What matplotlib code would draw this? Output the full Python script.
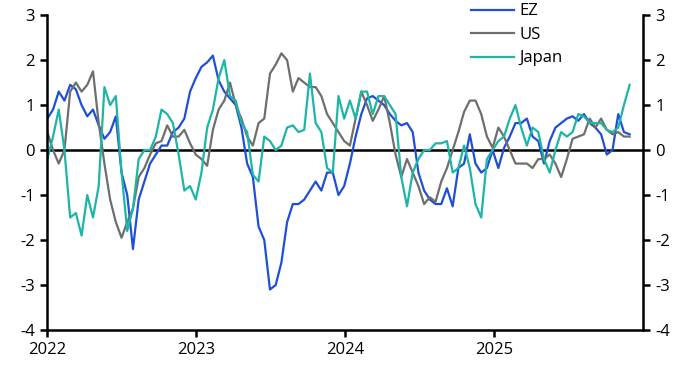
import matplotlib
matplotlib.use("Agg")
import matplotlib.pyplot as plt
import pandas as pd
import numpy as np

plt.rcParams['font.family'] = ['Open Sans', 'DejaVu Sans']
plt.rcParams['axes.unicode_minus'] = False

# biweekly observations from Jan 2022 to late Nov 2025
dates = pd.date_range('2022-01-01', periods=103, freq='14D')

ez = [0.7, 0.9, 1.3, 1.1, 1.45, 1.35, 1.0, 0.75, 0.9, 0.55,
      0.25, 0.4, 0.75, -0.5, -1.0, -2.2, -1.1, -0.7, -0.3, -0.1,
      0.1, 0.1, 0.4, 0.5, 0.7, 1.3, 1.6, 1.85, 1.95, 2.1,
      1.55, 1.3, 1.15, 1.0, 0.5, -0.3, -0.6, -1.7, -2.0, -3.1,
      -3.0, -2.5, -1.6, -1.2, -1.2, -1.1, -0.9, -0.7, -0.9, -0.5,
      -0.5, -1.0, -0.8, -0.3, 0.3, 0.8, 1.15, 1.2, 1.1, 1.0,
      0.8, 0.65, 0.55, 0.6, 0.4, -0.5, -0.9, -1.1, -1.2, -1.2,
      -0.85, -1.25, -0.4, -0.3, 0.35, -0.3, -0.5, -0.4, 0.0, -0.4,
      0.05, 0.3, 0.6, 0.6, 0.7, 0.3, 0.2, -0.3, 0.2, 0.5,
      0.6, 0.7, 0.75, 0.65, 0.8, 0.6, 0.5, 0.35, -0.1, 0.0,
      0.8, 0.4, 0.35]

us = [0.4, 0.0, -0.3, 0.0, 1.3, 1.5, 1.3, 1.45, 1.75, 0.6,
      -0.3, -1.1, -1.6, -1.95, -1.6, -1.3, -0.6, -0.4, -0.1, 0.15,
      0.2, 0.55, 0.3, 0.3, 0.45, 0.15, -0.1, -0.2, -0.35, 0.45,
      0.9, 1.1, 1.5, 1.0, 0.7, 0.3, 0.1, 0.6, 0.7, 1.7,
      1.9, 2.15, 2.0, 1.3, 1.6, 1.5, 1.4, 1.4, 1.2, 0.8,
      0.6, 0.4, 0.2, 0.1, 0.7, 1.3, 1.0, 0.65, 0.9, 1.2,
      0.6, -0.1, -0.6, -0.2, -0.5, -0.8, -1.2, -1.05, -1.15, -0.7,
      -0.4, 0.0, 0.4, 0.85, 1.1, 1.1, 0.8, 0.3, 0.05, 0.5,
      0.3, 0.0, -0.3, -0.3, -0.3, -0.4, -0.2, -0.2, -0.1, -0.3,
      -0.6, -0.2, 0.25, 0.3, 0.35, 0.7, 0.5, 0.7, 0.45, 0.35,
      0.4, 0.3, 0.3]

japan = [-0.2, 0.3, 0.9, 0.0, -1.5, -1.4, -1.9, -1.0, -1.5, -0.8,
         1.4, 1.0, 1.2, -0.5, -1.8, -1.3, -0.2, 0.0, 0.0, 0.3,
         0.9, 0.8, 0.6, -0.1, -0.9, -0.8, -1.1, -0.5, 0.5, 0.9,
         1.6, 2.0, 1.2, 1.1, 0.6, 0.4, -0.55, -0.7, 0.3, 0.2,
         0.0, 0.1, 0.5, 0.55, 0.4, 0.45, 1.7, 0.6, 0.4, -0.4,
         -0.5, 1.2, 0.7, 1.1, 0.7, 1.3, 1.3, 0.8, 1.2, 1.2,
         1.0, 0.8, -0.6, -1.25, -0.5, -0.2, 0.0, 0.0, 0.15, 0.15,
         0.2, -0.5, -0.4, 0.1, -0.4, -1.2, -1.5, -0.2, 0.0, 0.2,
         0.3, 0.7, 1.0, 0.5, 0.1, 0.5, 0.4, -0.2, -0.5, 0.0,
         0.4, 0.3, 0.4, 0.8, 0.75, 0.6, 0.6, 0.6, 0.45, 0.4,
         0.5, 1.0, 1.45]

labels = ['EZ', 'US', 'Japan']
colors = ['#1f4fd6', '#6e6e6e', '#1db5a6']
year_ticks = pd.to_datetime(['2022-01-01', '2023-01-01', '2024-01-01', '2025-01-01'])
year_labels = ['2022', '2023', '2024', '2025']
y_ticks = [3, 2, 1, 0, -1, -2, -3, -4]

fig = plt.figure(figsize=(6.96, 3.78), dpi=100)
ax = fig.add_axes([0.068, 0.127, 0.856, 0.833])

lines = []
for series, lab, col in zip([ez, us, japan], labels, colors):
    ln, = ax.plot(dates, series, color=col, lw=1.6, label=lab)
    lines.append(ln)

ax.axhline(0, color='black', lw=1.8, zorder=1)

ax.set_ylim(-4, 3)
ax.set_xlim(pd.Timestamp('2022-01-01'), pd.Timestamp('2026-01-01'))
ax.set_yticks(y_ticks)
ax.set_yticklabels([str(v) for v in y_ticks])
ax.set_xticks(year_ticks)
ax.set_xticklabels(year_labels)

for s in ['top']:
    ax.spines[s].set_visible(False)
for s in ['left', 'right', 'bottom']:
    ax.spines[s].set_linewidth(1.8)
    ax.spines[s].set_color('black')

ax.tick_params(axis='y', which='both', left=True, right=True, labelleft=True,
               labelright=True, direction='out', length=5, width=1.8,
               labelsize=12, pad=4)
ax.tick_params(axis='x', direction='out', length=5, width=1.8, labelsize=12, pad=4)

fig.legend(handles=lines, labels=labels, loc='upper left',
           bbox_to_anchor=(0.672, 1.0), frameon=False, fontsize=12,
           handlelength=2.6, handletextpad=0.3, labelspacing=0.45,
           borderpad=0.2, borderaxespad=0)

fig.savefig('out.png', dpi=100)
